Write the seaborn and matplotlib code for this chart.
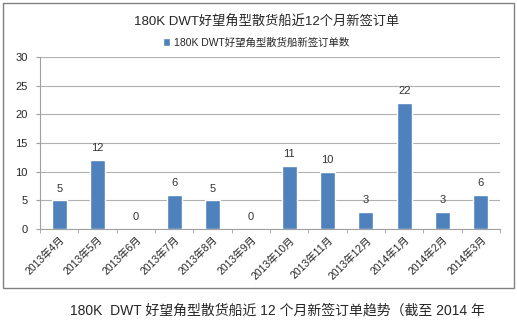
import numpy as np
import pandas as pd
import matplotlib
matplotlib.use("Agg")
import matplotlib.pyplot as plt
import seaborn as sns
from matplotlib.patches import Rectangle

months = ["2013年4月", "2013年5月", "2013年6月", "2013年7月", "2013年8月", "2013年9月",
          "2013年10月", "2013年11月", "2013年12月", "2014年1月", "2014年2月", "2014年3月"]
orders = [5, 12, 0, 6, 5, 0, 11, 10, 3, 22, 3, 6]
series_name = "180K DWT好望角型散货船新签订单数"
chart_title = "180K DWT好望角型散货船近12个月新签订单"
caption = "180K  DWT 好望角型散货船近 12 个月新签订单趋势（截至 2014 年"

sns.set_style("white")
plt.rcParams['font.family'] = ['Liberation Sans', 'Noto Sans CJK SC', 'DejaVu Sans']

df = pd.DataFrame({"month": months, "orders": orders})

fig = plt.figure(figsize=(5.17, 3.2), dpi=100)
ax = fig.add_axes([0.0774, 0.284, 0.89, 0.538])

sns.barplot(data=df, x="month", y="orders", color="#4F81BD", width=0.39,
            saturation=1, ax=ax, label=series_name, zorder=3)

ax.set_ylim(0, 30)
ax.set_yticks(range(0, 31, 5))
ax.set_xlim(-0.5, len(months) - 0.5)
ax.grid(axis="y", color="#B0B0B0", linewidth=0.8, zorder=0)
ax.grid(axis="x", visible=False)
for s in ["top", "right"]:
    ax.spines[s].set_visible(False)
ax.spines["left"].set_color("#A0A0A0")
ax.spines["bottom"].set_color("#A0A0A0")
ax.tick_params(axis="y", labelsize=8, length=3, color="#A0A0A0", left=True, pad=6)
ax.set_xticks(np.arange(len(months)))
ax.set_xticklabels(months, rotation=45, ha="right", rotation_mode="anchor", fontsize=7.5)
ax.tick_params(axis="x", length=0, pad=4)
ax.set_xticks(np.arange(-0.5, len(months), 1), minor=True)
ax.tick_params(axis="x", which="minor", length=3, color="#A0A0A0", bottom=True)
ax.set_xlabel("")
ax.set_ylabel("")

for i, v in enumerate(orders):
    ax.text(i, v + 1.2, str(v), ha="center", va="bottom", fontsize=8, color="#333333")

fig.text(0.515, 0.93, chart_title, ha="center", va="center", fontsize=9.5)
leg = ax.legend(loc="lower center", bbox_to_anchor=(0.47, 1.0), frameon=False,
                fontsize=7.5, handlelength=0.7, handleheight=0.7, handletextpad=0.4)

fig.patches.append(Rectangle((0.006, 0.1), 0.988, 0.89, transform=fig.transFigure,
                             fill=False, edgecolor="#808080", linewidth=1))
fig.text(0.135, 0.028, caption, ha="left", va="center", fontsize=10)

fig.savefig("out.png", dpi=100)
